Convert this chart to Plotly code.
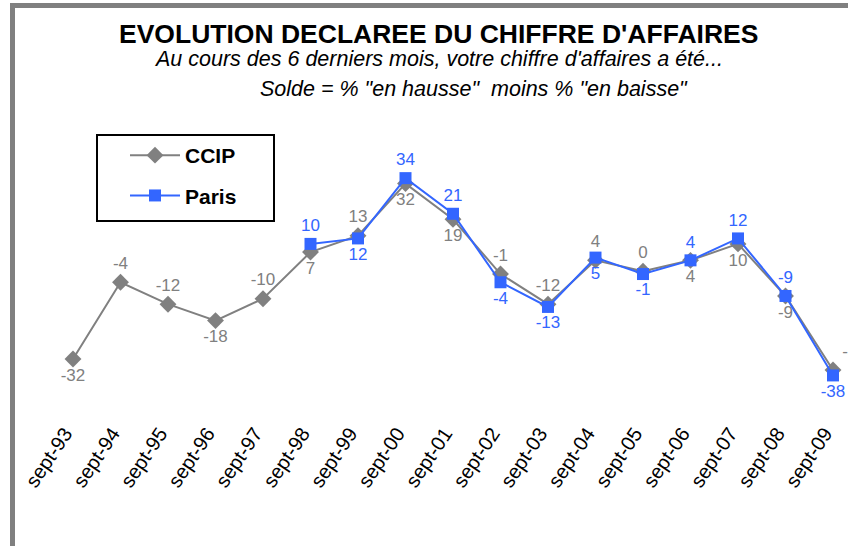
import plotly.graph_objects as go

# =============================================================================
# Data
# =============================================================================

years = ["sept-93", "sept-94", "sept-95", "sept-96", "sept-97", "sept-98",
         "sept-99", "sept-00", "sept-01", "sept-02", "sept-03", "sept-04",
         "sept-05", "sept-06", "sept-07", "sept-08", "sept-09"]

ccip = [-32, -4, -12, -18, -10, 7, 13, 32, 19, -1, -12, 4, 0, 4, 10, -9, -36]
paris = [None, None, None, None, None, 10, 12, 34, 21, -4, -13, 5, -1, 4, 12, -9, -38]

ccip_pos = ["bottom center", "top center", "top center", "bottom center",
            "top center", "bottom center", "top center", "bottom center",
            "bottom center", "top center", "top center", "top center",
            "top center", "bottom center", "bottom center", "bottom center",
            "top right"]
paris_pos = ["top center"] * 5 + [
    "top center", "bottom center", "top center", "top center", "bottom center",
    "bottom center", "bottom center", "bottom center", "top center",
    "top center", "top center", "bottom center"]

GREY = "#808080"
BLUE = "#3366FF"

W, H = 848, 546


def px(x):
    return x / W


def py(y):
    return 1 - y / H


STEP = 47.5     # pixels between categories
X0 = 73         # pixel of first category
Y0 = 271.3      # pixel of zero
SCALE = 2.74    # pixels per unit
BOTTOM = 417    # bottom of plot area

x = list(range(len(years)))

fig = go.Figure()

fig.add_trace(
    go.Scatter(
        x=x,
        y=ccip,
        name="<b>CCIP</b>",
        mode="lines+markers+text",
        line=dict(color=GREY, width=2),
        marker=dict(symbol="diamond", size=13, color=GREY),
        text=[str(v) for v in ccip],
        textposition=ccip_pos,
        textfont=dict(color=GREY, size=17, family="Liberation Sans"),
        cliponaxis=False,
        legendgroup="a",
    )
)

fig.add_trace(
    go.Scatter(
        x=x,
        y=paris,
        name="<b>Paris</b>",
        mode="lines+markers+text",
        line=dict(color=BLUE, width=2),
        marker=dict(symbol="square", size=12, color=BLUE),
        text=["" if v is None else str(v) for v in paris],
        textposition=paris_pos,
        textfont=dict(color=BLUE, size=17, family="Liberation Sans"),
        cliponaxis=False,
        legendgroup="b",
    )
)

# grey frame on top and left
fig.add_shape(type="rect", xref="paper", yref="paper",
              x0=px(10), x1=1, y0=py(8), y1=py(3),
              fillcolor=GREY, line=dict(width=0), layer="below")
fig.add_shape(type="rect", xref="paper", yref="paper",
              x0=px(10), x1=px(15), y0=0, y1=py(3),
              fillcolor=GREY, line=dict(width=0), layer="below")

# legend frame
fig.add_shape(type="rect", xref="paper", yref="paper",
              x0=px(97), x1=px(274), y0=py(221), y1=py(135),
              fillcolor="white", line=dict(width=2, color="black"), layer="below")

fig.add_annotation(
    text="<b>EVOLUTION DECLAREE DU CHIFFRE D'AFFAIRES</b>",
    xref="paper", yref="paper", x=px(438), y=py(34),
    xanchor="center", yanchor="middle", showarrow=False,
    font=dict(size=26.5, color="black", family="Liberation Sans"),
)
fig.add_annotation(
    text="<i>Au cours des 6 derniers mois, votre chiffre d'affaires a été...</i>",
    xref="paper", yref="paper", x=px(438), y=py(59),
    xanchor="center", yanchor="middle", showarrow=False,
    font=dict(size=21.5, color="black", family="Liberation Sans"),
)
fig.add_annotation(
    text="<i>Solde = % \"en hausse\"  moins % \"en baisse\"</i>",
    xref="paper", yref="paper", x=px(258), y=py(89),
    xanchor="left", yanchor="middle", showarrow=False,
    font=dict(size=21.5, color="black", family="Liberation Sans"),
)

fig.update_xaxes(
    domain=[0, 1],
    range=[-X0 / STEP, (W - X0) / STEP],
    tickvals=x,
    ticktext=years,
    tickangle=-56,
    ticklabelshift=-8,
    tickfont=dict(size=20, color="black", family="Liberation Sans"),
    showgrid=False,
    zeroline=False,
    showline=False,
    ticks="",
    automargin=False,
)
fig.update_yaxes(
    domain=[1 - BOTTOM / H, 1],
    range=[(Y0 - BOTTOM) / SCALE, Y0 / SCALE],
    showgrid=False,
    zeroline=False,
    showline=False,
    showticklabels=False,
    automargin=False,
)

fig.update_layout(
    width=W,
    height=H,
    margin=dict(l=0, r=0, t=0, b=0),
    paper_bgcolor="white",
    plot_bgcolor="white",
    showlegend=True,
    legend=dict(
        x=px(125), y=py(135), xanchor="left", yanchor="top",
        borderwidth=0, bgcolor="rgba(0,0,0,0)",
        font=dict(size=21, color="black", family="Liberation Sans"),
        tracegroupgap=10, itemwidth=50,
    ),
    font=dict(family="Liberation Sans"),
)

fig.write_html(
    "out.html",
    config={"displayModeBar": False},
    post_script="document.body.style.margin='0';",
)
